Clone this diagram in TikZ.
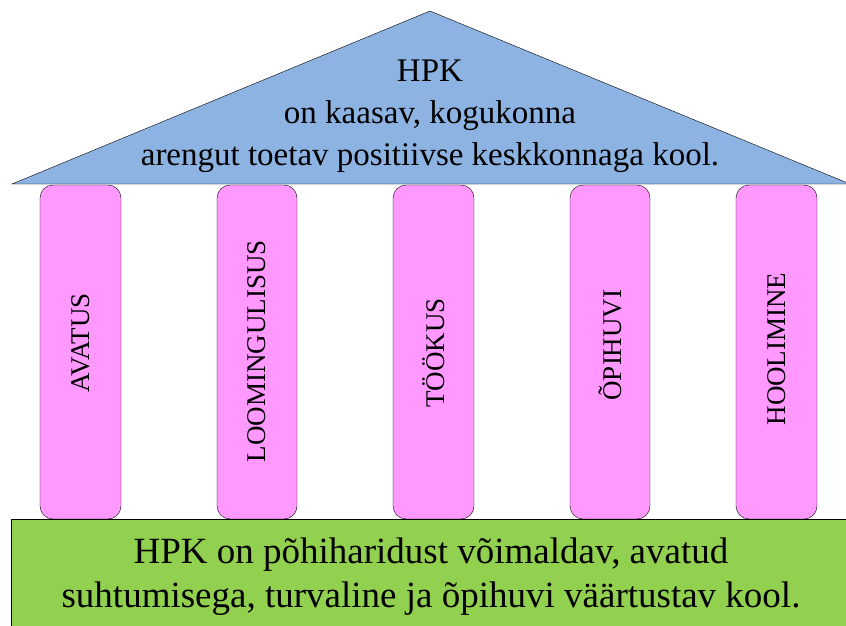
\documentclass[tikz,border=0pt]{standalone}
\usepackage{fontspec}
\setmainfont{Liberation Serif}
\definecolor{roofblue}{HTML}{8DB3E2}
\definecolor{pillarpink}{HTML}{FF99FF}
\definecolor{basegreen}{HTML}{92D050}

\begin{document}
\begin{tikzpicture}[x=1pt,y=-1pt,
  pillar/.style={draw,fill=pillarpink,rounded corners=13pt},
  pillartext/.style={rotate=90,inner sep=0pt,font=\fontsize{27}{30}\selectfont}]
\useasboundingbox (0,0) rectangle (846,626);
\draw[fill=roofblue] (12,184) -- (430,11) -- (850,184) -- cycle;
\node[align=center,font=\fontsize{33}{42}\selectfont] (rooftext) at (430,116)
  {HPK\\on kaasav, kogukonna\\arengut toetav positiivse keskkonnaga kool.};
\draw[pillar] (40,185) rectangle (121,519);
\draw[pillar] (217,185) rectangle (297,519);
\draw[pillar] (393,185) rectangle (474,519);
\draw[pillar] (570,185) rectangle (650,519);
\draw[pillar] (736,185) rectangle (817,519);
\node[pillartext] (avatus) at (80.5,343) {AVATUS};
\node[pillartext] (loomingulisus) at (257,351) {LOOMINGULISUS};
\node[pillartext] (tookus) at (433.5,353) {TÖÖKUS};
\node[pillartext] (opihuvi) at (610,345) {ÕPIHUVI};
\node[pillartext] (hoolimine) at (776.5,349) {HOOLIMINE};
\draw[fill=basegreen] (11,519) rectangle (852,630);
\node[align=center,font=\fontsize{37}{44}\selectfont] (basetext) at (431,577)
  {HPK on põhiharidust võimaldav, avatud\\suhtumisega, turvaline ja õpihuvi väärtustav kool.};
\end{tikzpicture}
\end{document}
